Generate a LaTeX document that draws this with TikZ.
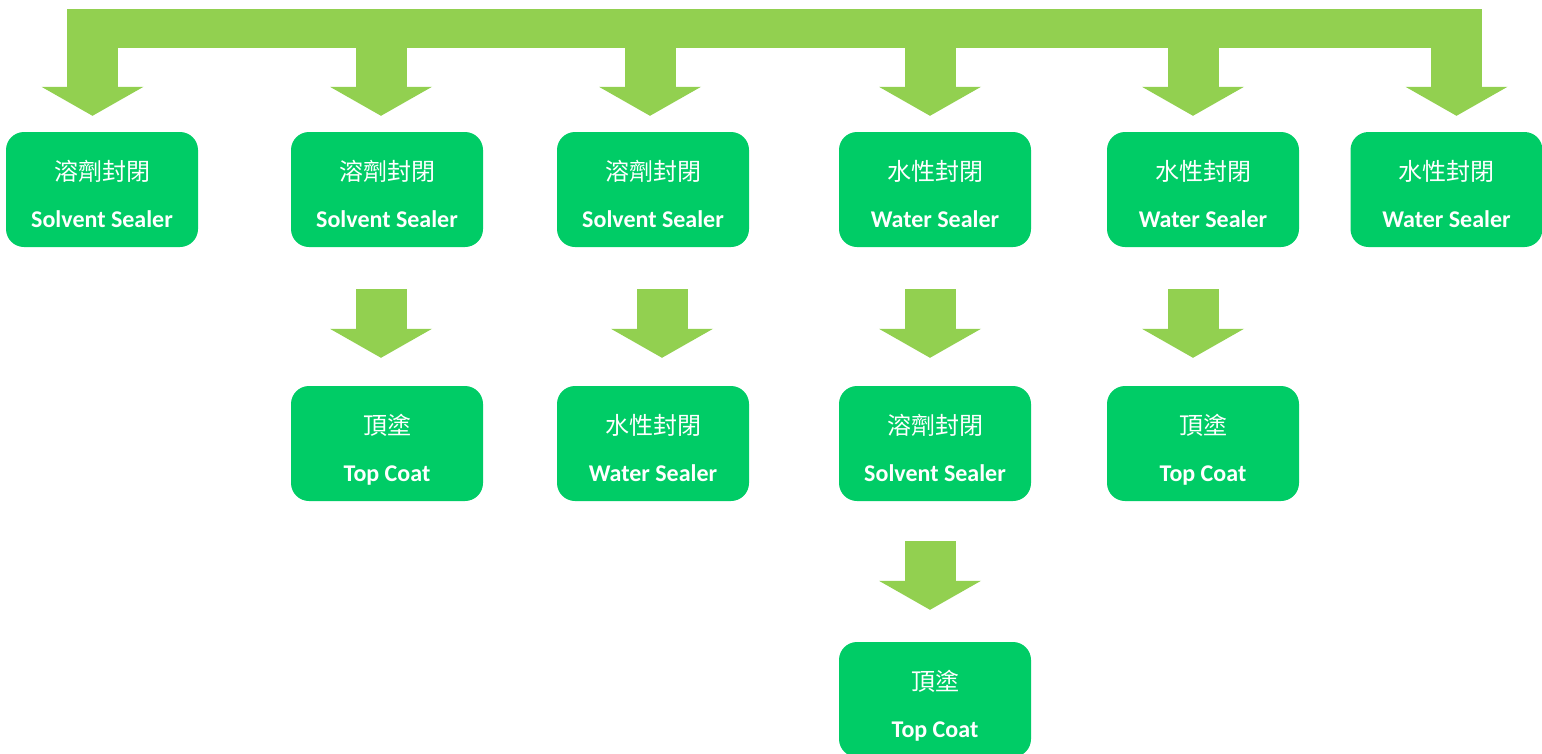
\documentclass[tikz,border=0pt]{standalone}
\usepackage{fontspec}
\setmainfont{Carlito}
\newfontfamily\cjk{Noto Sans CJK TC}
\usetikzlibrary{arrows.meta}
\definecolor{arrowgreen}{HTML}{92D050}
\definecolor{boxgreen}{HTML}{00CC66}

\begin{document}
\begin{tikzpicture}[x=1pt, y=1pt,
                    sealbox/.style 2 args={box, label={[zh]center:#1}, label={[en]center:#2}},
                    ]
    \tikzstyle{box}=[rectangle, rounded corners=18pt, fill=boxgreen, minimum width=192pt, minimum height=115pt, inner sep=0pt]
    \tikzstyle{zh}=[yshift=18.5pt, inner sep=0pt, text=white, font=\cjk\fontsize{24}{28}\selectfont]
    \tikzstyle{en}=[yshift=-31.5pt, inner sep=0pt, text=white, text height=17pt, text depth=5pt, font=\bfseries\fontsize{24}{28}\selectfont]
    \tikzstyle{flow}=[arrowgreen, line width=51pt, -{Triangle[width=102pt, length=29pt, line width=0pt]}]

    \useasboundingbox (0,0) rectangle (1542,-753);

    % first row
    \node[sealbox={溶劑封閉}{Solvent Sealer}] (s1) at (102,-189.5) {};
    \node[sealbox={溶劑封閉}{Solvent Sealer}] (s2) at (387,-189.5) {};
    \node[sealbox={溶劑封閉}{Solvent Sealer}] (s3) at (653,-189.5) {};
    \node[sealbox={水性封閉}{Water Sealer}] (w4) at (935,-189.5) {};
    \node[sealbox={水性封閉}{Water Sealer}] (w5) at (1203,-189.5) {};
    \node[sealbox={水性封閉}{Water Sealer}] (w6) at (1446.5,-189.5) {};

    % second row
    \node[sealbox={頂塗}{Top Coat}] (c2) at (387,-443.5) {};
    \node[sealbox={水性封閉}{Water Sealer}] (w3) at (653,-443.5) {};
    \node[sealbox={溶劑封閉}{Solvent Sealer}] (s4) at (935,-443.5) {};
    \node[sealbox={頂塗}{Top Coat}] (c5) at (1203,-443.5) {};

    % third row
    \node[sealbox={頂塗}{Top Coat}] (c4) at (935,-699.5) {};

    % top bar
    \fill[arrowgreen] (67,-9) rectangle (1482,-48);
    \coordinate (b1) at (92.5,-44);
    \coordinate (b2) at (381,-44);
    \coordinate (b3) at (650,-44);
    \coordinate (b4) at (930,-44);
    \coordinate (b5) at (1193,-44);
    \coordinate (b6) at (1456.5,-44);

    \draw[flow, shorten >=16pt] (b1) -- (b1 |- s1.north);
    \draw[flow, shorten >=16pt] (b2) -- (b2 |- s2.north);
    \draw[flow, shorten >=16pt] (b3) -- (b3 |- s3.north);
    \draw[flow, shorten >=16pt] (b4) -- (b4 |- w4.north);
    \draw[flow, shorten >=16pt] (b5) -- (b5 |- w5.north);
    \draw[flow, shorten >=16pt] (b6) -- (b6 |- w6.north);

    \draw[flow, shorten <=42pt, shorten >=28pt] ([xshift=-6pt]s2.south) -- ([xshift=-6pt]c2.north);
    \draw[flow, shorten <=42pt, shorten >=28pt] ([xshift=9pt]s3.south) -- ([xshift=9pt]w3.north);
    \draw[flow, shorten <=42pt, shorten >=28pt] ([xshift=-5pt]w4.south) -- ([xshift=-5pt]s4.north);
    \draw[flow, shorten <=42pt, shorten >=28pt] ([xshift=-10pt]w5.south) -- ([xshift=-10pt]c5.north);
    \draw[flow, shorten <=40pt, shorten >=32pt] ([xshift=-5pt]s4.south) -- ([xshift=-5pt]c4.north);
\end{tikzpicture}
\end{document}
